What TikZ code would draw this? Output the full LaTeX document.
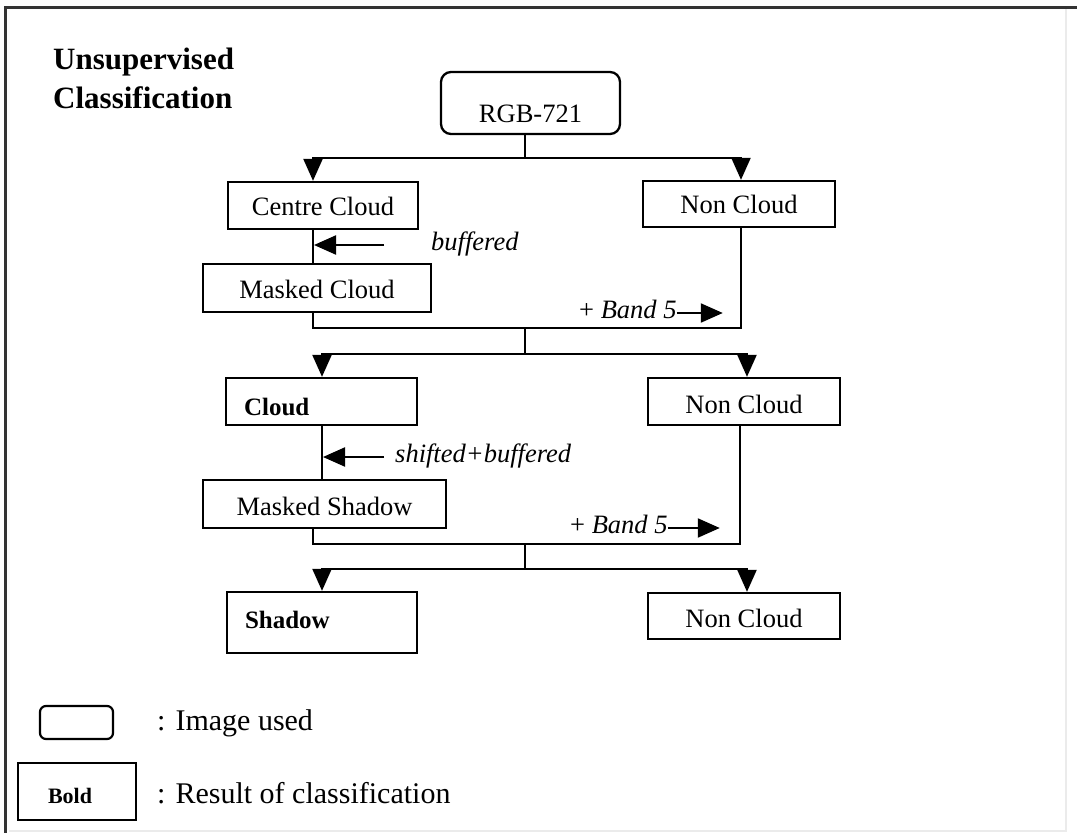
\documentclass[tikz,border=0pt]{standalone}
\usepackage{fontspec}
\setmainfont{Liberation Serif}
\usetikzlibrary{arrows.meta}
\begin{document}
\begin{tikzpicture}[x=1pt,y=-1pt,
  box/.style={draw=black, line width=2.3pt, rectangle, inner sep=0pt,
    font=\fontsize{26.5}{30}\selectfont, text height=20pt, text depth=0pt},
  imgbox/.style={box, rounded corners=10pt},
  resbox/.style={box, font=\bfseries\fontsize{25}{30}\selectfont, align=left, inner xsep=18pt},
  link/.style={line width=2.2pt, draw=black},
  arr/.style={link, -{Triangle[width=19pt,length=22pt]}},
  note/.style={font=\itshape\fontsize{26.5}{30}\selectfont, anchor=base west, inner sep=0pt},
  plus/.style={font=\fontsize{26.5}{30}\selectfont, anchor=base west, inner sep=0pt},
  legend/.style={font=\fontsize{30}{34}\selectfont, anchor=base west, inner sep=0pt},
  title/.style={font=\bfseries\fontsize{31}{36}\selectfont, anchor=base west, inner sep=0pt}]
\useasboundingbox (0,0) rectangle (1077,833);

% frame
\draw[line width=3pt, black!80] (1077,7.5) -- (5.5,7.5) -- (5.5,833);
\draw[line width=1.5pt, black!8] (1066,9) -- (1066,831) -- (9,831);

% title
\node[title] (t1) at (53,69) {Unsupervised};
\node[title] (t2) at (53,108) {Classification};

% boxes
\node[imgbox, minimum width=179pt, minimum height=62pt, text height=38pt] (rgb) at (530.5,103) {RGB-721};
\node[box, minimum width=190pt, minimum height=47pt, text height=19pt] (cc) at (323,205.5) {Centre Cloud};
\node[box, minimum width=192pt, minimum height=46pt, text height=19pt] (nc1) at (739,204) {Non Cloud};
\node[box, minimum width=228pt, minimum height=48pt] (mc) at (317,288) {Masked Cloud};
\node[resbox, text width=155pt, minimum height=47pt, text height=27pt] (cl) at (321.5,401.5) {Cloud};
\node[box, minimum width=192pt, minimum height=47pt, text height=23pt] (nc2) at (744,401.5) {Non Cloud};
\node[box, minimum width=243pt, minimum height=48pt, text height=22pt] (ms) at (324.5,504) {Masked Shadow};
\node[resbox, text width=154pt, minimum height=61pt, text height=11pt] (sh) at (322,622.5) {Shadow};
\node[box, minimum width=192pt, minimum height=46pt, text height=22pt] (nc3) at (744,616) {Non Cloud};

% first split
\coordinate (j1) at (525,158);
\coordinate (a1) at (313,158);
\coordinate (a2) at (741,158);
\draw[link] (j1 |- rgb.south) -- (j1);
\draw[arr] (j1) -- (a1) -- (a1 |- cc.north);
\draw[arr] (j1) -- (a2) -- (a2 |- nc1.north);

% buffering of the cloud centre
\draw[link] (cc.south -| a1) -- (a1 |- mc.north);
\coordinate (bf) at (384,245);
\draw[arr, shorten >=1pt] (bf) -- (bf -| a1);
\node[note] (buf) at (431,250) {buffered};

% first merge
\coordinate (m1l) at (313,328);
\coordinate (m1r) at (741,328);
\draw[link] (mc.south -| m1l) -- (m1l) -- (m1r) -- (m1r |- nc1.south);
\node[plus] (band1) at (579,318) {+ \textit{Band 5}};
\draw[arr] ([yshift=5pt]band1.base east) -- ++(46,0) coordinate (band1end);

% second split
\coordinate (j2) at (525,328);
\coordinate (j3) at (525,354);
\coordinate (a3) at (322,354);
\coordinate (a4) at (747,354);
\draw[link] (j2) -- (j3);
\draw[arr] (j3) -- (a3) -- (a3 |- cl.north);
\draw[arr] (j3) -- (a4) -- (a4 |- nc2.north);

% shifting and buffering of the cloud
\draw[link] (cl.south -| a3) -- (a3 |- ms.north);
\coordinate (sb) at (384,457);
\draw[arr, shorten >=1pt] (sb) -- (sb -| a3);
\node[note] (shb) at (395,462) {shifted+buffered};

% second merge
\coordinate (m2l) at (313,544);
\coordinate (m2r) at (740,544);
\draw[link] (ms.south -| m2l) -- (m2l) -- (m2r) -- (m2r |- nc2.south);
\node[plus] (band2) at (570,533) {+ \textit{Band 5}};
\draw[arr] ([yshift=5pt]band2.base east) -- ++(52,0) coordinate (band2end);

% third split
\coordinate (j4) at (525,544);
\coordinate (j5) at (525,569);
\coordinate (a5) at (322,569);
\coordinate (a6) at (747,569);
\draw[link] (j4) -- (j5);
\draw[arr] (j5) -- (a5) -- (a5 |- sh.north);
\draw[arr] (j5) -- (a6) -- (a6 |- nc3.north);

% legend
\node[imgbox, rounded corners=6pt, line width=2.2pt, minimum width=73pt, minimum height=33pt] (lgimg) at (76.5,722.5) {};
\node[legend] (lgimgtxt) at (157,730) {: Image used};
\node[resbox, font=\bfseries\fontsize{22}{26}\selectfont, inner xsep=30pt, text width=58pt,
  minimum height=57pt, text height=23pt] (lgres) at (77,791.5) {Bold};
\node[legend] (lgrestxt) at (157,803) {: Result of classification};
\end{tikzpicture}
\end{document}
